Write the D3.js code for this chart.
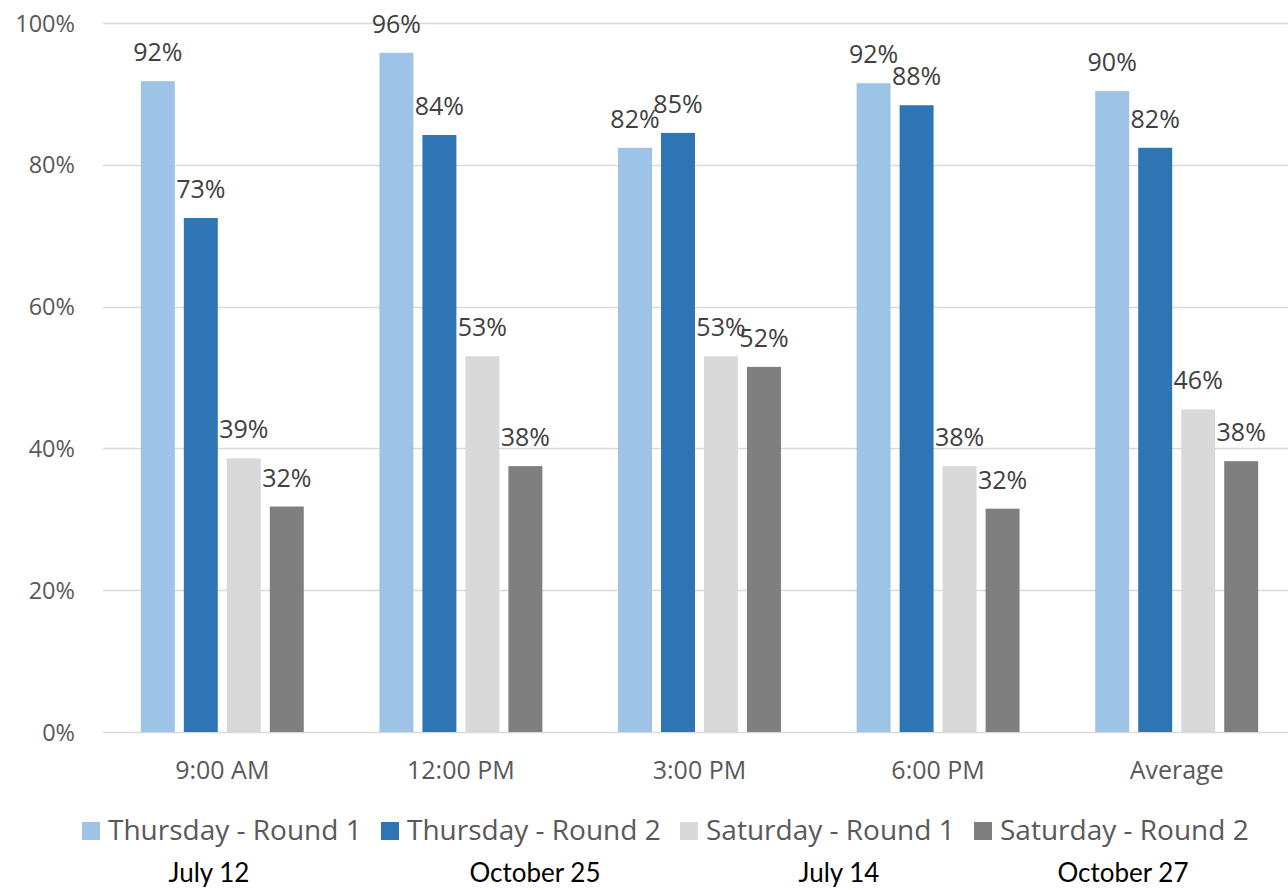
<!DOCTYPE html>
<html><head><meta charset="utf-8">
<script src="https://cdn.jsdelivr.net/npm/d3@7"></script>
<style>
body{margin:0;background:#fff;}
svg{display:block;}
</style></head>
<body>
<svg id="chart" width="1288" height="890"></svg>
<script>
const categories = ["9:00 AM", "12:00 PM", "3:00 PM", "6:00 PM", "Average"];
const seriesNames = ["Thursday - Round 1", "Thursday - Round 2", "Saturday - Round 1", "Saturday - Round 2"];
const thursdayRound1 = [0.918, 0.958, 0.824, 0.915, 0.904];
const thursdayRound2 = [0.725, 0.842, 0.845, 0.884, 0.824];
const saturdayRound1 = [0.386, 0.530, 0.530, 0.375, 0.455];
const saturdayRound2 = [0.318, 0.375, 0.515, 0.315, 0.382];
const yTicks = [0, 0.2, 0.4, 0.6, 0.8, 1.0];
const dateLabels = ["July 12", "October 25", "July 14", "October 27"];
const colors = ["#9DC3E6", "#2E75B6", "#D9D9D9", "#7F7F7F"];

const allSeries = [thursdayRound1, thursdayRound2, saturdayRound1, saturdayRound2];
const svg = d3.select("#chart");
const font = "'Open Sans', sans-serif";

const y = d3.scaleLinear().domain([0, 1]).range([732, 23]);
const x0 = d3.scaleBand().domain(categories).range([103, 1296]).padding(0);
const x1 = d3.scaleBand().domain(seriesNames).range([0, x0.bandwidth()]).paddingInner(0.21).paddingOuter(0.88);

// gridlines
svg.append("g").selectAll("line").data(yTicks).join("line")
  .attr("x1", 103).attr("x2", 1288)
  .attr("y1", d => Math.round(y(d)) + 0.5).attr("y2", d => Math.round(y(d)) + 0.5)
  .attr("stroke", "#D9D9D9").attr("stroke-width", d => d === 0 ? 1.5 : 1.3);

// y labels
svg.append("g").selectAll("text").data(yTicks).join("text")
  .attr("x", 75).attr("y", d => y(d) + 8.5)
  .attr("text-anchor", "end").attr("font-family", font).attr("font-size", 23.5)
  .attr("fill", "#595959").text(d => d3.format(".0%")(d));

// bars
const groups = svg.append("g").selectAll("g").data(categories).join("g")
  .attr("transform", c => `translate(${x0(c)},0)`);

seriesNames.forEach((s, si) => {
  groups.append("rect")
    .attr("x", x1(s)).attr("width", x1.bandwidth())
    .attr("y", (c, ci) => y(allSeries[si][ci]))
    .attr("height", (c, ci) => y(0) - y(allSeries[si][ci]))
    .attr("fill", colors[si]);
});
seriesNames.forEach((s, si) => {
  groups.append("text")
    .attr("x", x1(s) + x1.bandwidth() / 2)
    .attr("y", (c, ci) => y(allSeries[si][ci]) - 20)
    .attr("text-anchor", "middle").attr("font-family", font).attr("font-size", 25)
    .attr("fill", "#404040")
    .text((c, ci) => d3.format(".0%")(allSeries[si][ci]));
});

// x labels
svg.append("g").selectAll("text").data(categories).join("text")
  .attr("x", c => x0(c) + x0.bandwidth() / 2).attr("y", 779)
  .attr("text-anchor", "middle").attr("font-family", font).attr("font-size", 25)
  .attr("fill", "#595959").text(c => c);

// legend
const legendX = [82, 381, 680, 974];
const leg = svg.append("g").selectAll("g").data(seriesNames).join("g")
  .attr("transform", (d, i) => `translate(${legendX[i]},0)`);
leg.append("rect").attr("x", 0).attr("y", 822).attr("width", 18).attr("height", 18)
  .attr("fill", (d, i) => colors[i]);
leg.append("text").attr("x", 26).attr("y", 840)
  .attr("font-family", font).attr("font-size", 28).attr("fill", "#595959").text(d => d);

// dates
const dateX = [209, 535, 839, 1123];
svg.append("g").selectAll("text").data(dateLabels).join("text")
  .attr("x", (d, i) => dateX[i]).attr("y", 882)
  .attr("text-anchor", "middle").attr("font-family", "Lato, sans-serif").attr("font-size", 26)
  .attr("fill", "#000").text(d => d);
</script>
</body></html>
